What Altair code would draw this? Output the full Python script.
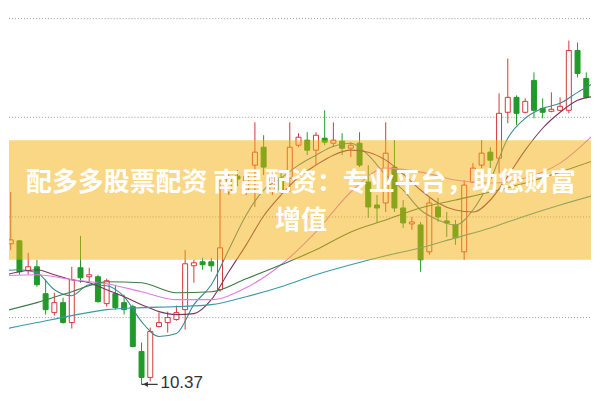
import altair as alt
import pandas as pd

# ---------------- data ----------------
idx = list(range(69))
open_ = [11.47, 11.78, 11.81, 11.51, 11.55, 11.28, 11.09, 11.19, 10.99, 11.54,
         11.45, 11.45, 11.18, 11.28, 11.19, 11.15, 10.70, 10.44, 10.95, 10.99,
         11.02, 11.12, 11.56, 11.60, 11.60, 11.32, 12.30, 12.46, 12.32, 12.57,
         12.75, 12.32, 12.44, 12.44, 12.77, 12.82, 12.72, 12.84, 12.79, 12.81,
         12.74, 12.79, 12.40, 12.17, 12.19, 12.55, 12.14, 11.98, 11.97, 11.70,
         12.15, 12.01, 11.97, 11.70, 12.40, 12.57, 12.70, 12.64, 13.10, 13.25,
         13.10, 13.42, 13.14, 13.11, 13.12, 13.12, 13.72, 13.44, 13.23]
close = [11.60, 11.82, 11.50, 11.55, 11.37, 11.12, 11.19, 10.99, 11.42, 11.44,
         11.47, 11.20, 11.41, 11.14, 11.12, 10.75, 10.44, 10.90, 10.99, 11.04,
         11.09, 11.58, 11.59, 11.57, 11.56, 11.74, 12.44, 12.43, 12.46, 12.70,
         12.55, 12.44, 12.32, 12.75, 12.85, 12.72, 12.87, 12.80, 12.82, 12.74,
         12.77, 12.57, 12.15, 12.14, 12.69, 12.14, 11.99, 12.00, 11.62, 12.19,
         12.05, 11.99, 11.84, 12.37, 12.54, 12.69, 12.62, 13.09, 13.25, 13.09,
         13.21, 13.12, 13.10, 13.13, 13.16, 13.72, 13.49, 13.25, 13.25]
high = [11.64, 12.30, 11.82, 11.69, 11.62, 11.42, 11.29, 11.24, 11.55, 11.86,
        11.54, 11.47, 11.43, 11.37, 11.27, 11.17, 10.79, 10.94, 11.09, 11.10,
        11.16, 11.72, 11.62, 11.64, 11.64, 12.42, 12.48, 12.52, 12.50, 13.00,
        12.87, 12.50, 12.49, 13.00, 12.89, 12.90, 12.90, 13.12, 13.00, 12.89,
        12.80, 12.90, 12.57, 12.27, 13.00, 12.82, 12.22, 12.05, 12.00, 12.24,
        12.24, 12.10, 12.02, 12.42, 12.59, 12.82, 12.75, 13.29, 13.64, 13.27,
        13.24, 13.50, 13.24, 13.30, 13.25, 13.82, 13.80, 13.50, 13.27]
low = [11.42, 11.72, 11.47, 11.47, 11.35, 11.07, 11.06, 10.98, 10.93, 11.39,
       11.40, 11.19, 11.15, 11.12, 11.07, 10.74, 10.37, 10.40, 10.94, 10.89,
       11.01, 10.92, 11.39, 11.52, 11.50, 11.30, 12.27, 12.36, 12.27, 12.15,
       12.47, 12.27, 12.28, 12.30, 12.75, 12.67, 12.57, 12.77, 12.75, 12.67,
       12.65, 12.55, 12.04, 11.99, 12.10, 12.10, 11.94, 11.92, 11.50, 11.67,
       12.00, 11.85, 11.77, 11.62, 12.39, 12.54, 12.54, 12.49, 12.99, 12.97,
       13.09, 13.04, 13.04, 13.10, 13.11, 13.09, 13.45, 13.24, 13.10]

ma_idx_2 = list(range(0, 69, 2))
ma5 = [11.51, 11.52, 11.49, 11.32, 11.26, 11.37, 11.36, 11.25, 11.00, 10.85,
       10.88, 11.17, 11.37, 11.72, 12.07, 12.32, 12.44, 12.57, 12.67, 12.76,
       12.79, 12.67, 12.47, 12.32, 12.12, 12.02, 11.97, 12.12, 12.42, 12.84,
       13.04, 13.14, 13.19, 13.30, 13.40]
ma10 = [11.46, 11.50, 11.52, 11.47, 11.42, 11.39, 11.32, 11.25, 11.17, 11.10,
        11.07, 11.08, 11.22, 11.50, 11.77, 12.06, 12.27, 12.45, 12.57, 12.67,
        12.72, 12.70, 12.62, 12.48, 12.32, 12.19, 12.12, 12.10, 12.22, 12.46,
        12.72, 12.94, 13.10, 13.22, 13.26]
ma_idx_4 = list(range(0, 69, 4))
ma20 = [11.46, 11.47, 11.42, 11.38, 11.30, 11.22, 11.22, 11.34, 11.57, 11.90,
        12.30, 12.54, 12.50, 12.42, 12.39, 12.44, 12.59, 12.89]
ma30 = [11.10, 11.19, 11.30, 11.40, 11.39, 11.29, 11.30, 11.43, 11.57, 11.72,
        11.90, 12.02, 12.14, 12.22, 12.30, 12.39, 12.50, 12.62]
ma60 = [10.92, 10.99, 11.06, 11.12, 11.14, 11.15, 11.17, 11.25, 11.35, 11.47,
        11.57, 11.66, 11.74, 11.84, 11.94, 12.06, 12.17, 12.27]

grid_prices = [14.04, 13.05, 12.05, 11.04]
banner_band = [12.82, 11.62]
low_label = "10.37"
low_index = 16
low_price = 10.37
title_line1 = "配多多股票配资 南昌配资：专业平台，助您财富"
title_line2 = "增值"

# ---------------- chart ----------------
W, H = 584, 385
RED = "#d4393b"
GREEN = "#229a2a"

xs = alt.Scale(domain=[0.8, 67.543], nice=False, zero=False, padding=0)
ys = alt.Scale(domain=[10.29, 14.14], nice=False, zero=False, padding=0)

candles = pd.DataFrame({"i": idx, "open": open_, "high": high,
                        "low": low, "close": close})
up = "datum.close >= datum.open"

grid = alt.Chart(pd.DataFrame({"p": grid_prices})).mark_rule(
    color="#9a9a9a", strokeDash=[1, 2], strokeWidth=1
).encode(x=alt.value(0), x2=alt.value(W),
         y=alt.Y("p:Q", scale=ys, axis=None))

wick = alt.Chart(candles).mark_rule(strokeWidth=1, clip=True).encode(
    x=alt.X("i:Q", scale=xs, axis=None),
    y=alt.Y("low:Q", scale=ys, axis=None),
    y2="high:Q",
    color=alt.condition(up, alt.value(RED), alt.value(GREEN)),
)
body = alt.Chart(candles).mark_bar(size=5, strokeWidth=1, clip=True).encode(
    x=alt.X("i:Q", scale=xs, axis=None),
    y=alt.Y("open:Q", scale=ys, axis=None),
    y2="close:Q",
    fill=alt.condition(up, alt.value("white"), alt.value(GREEN)),
    stroke=alt.condition(up, alt.value(RED), alt.value(GREEN)),
)

rows = []
for name, ix, vals in [("MA5", ma_idx_2, ma5), ("MA10", ma_idx_2, ma10),
                       ("MA20", ma_idx_4, ma20), ("MA30", ma_idx_4, ma30),
                       ("MA60", ma_idx_4, ma60)]:
    for a, b in zip(ix, vals):
        rows.append({"ma": name, "i": a, "v": b})
ma_df = pd.DataFrame(rows)
lines = alt.Chart(ma_df).mark_line(strokeWidth=1.1, interpolate="monotone",
                                   clip=True).encode(
    x=alt.X("i:Q", scale=xs, axis=None),
    y=alt.Y("v:Q", scale=ys, axis=None),
    detail="ma:N",
    color=alt.Color("ma:N", legend=None, scale=alt.Scale(
        domain=["MA5", "MA10", "MA20", "MA30", "MA60"],
        range=["#3f8a8f", "#7a3566", "#e07fe0", "#3e7b45", "#3a9aa8"])),
)

lowdf = pd.DataFrame({"i": [low_index], "p": [low_price], "t": [low_label]})
arrow_line = alt.Chart(lowdf).transform_calculate(
    i2="datum.i + 1.85").mark_rule(color="#333333", strokeWidth=1.2).encode(
    x=alt.X("i:Q", scale=xs, axis=None),
    x2="i2:Q",
    y=alt.Y("p:Q", scale=ys, axis=None),
)
arrow_head = alt.Chart(lowdf).mark_point(shape="triangle-left", filled=True,
                                         size=30, color="#333333", opacity=1,
                                         xOffset=4).encode(
    x=alt.X("i:Q", scale=xs, axis=None),
    y=alt.Y("p:Q", scale=ys, axis=None))
low_text = alt.Chart(lowdf).mark_text(align="left", baseline="middle",
                                      fontSize=17, color="#333333",
                                      font="Liberation Sans", dx=19, dy=-1).encode(
    x=alt.X("i:Q", scale=xs, axis=None),
    y=alt.Y("p:Q", scale=ys, axis=None),
    text="t:N")

banner = alt.Chart(pd.DataFrame({"top": [banner_band[0]],
                                 "bot": [banner_band[1]]})).mark_rect(
    color="#F4AF0C", opacity=0.5
).encode(x=alt.value(0), x2=alt.value(W),
         y=alt.Y("top:Q", scale=ys, axis=None), y2="bot:Q")

t1 = alt.Chart(pd.DataFrame({"t": [title_line1]})).mark_text(
    font="Noto Sans CJK SC", fontWeight="bold", fontSize=26, color="white",
    align="center", baseline="middle"
).encode(x=alt.value(293), y=alt.value(175), text="t:N")
t2 = alt.Chart(pd.DataFrame({"t": [title_line2]})).mark_text(
    font="Noto Sans CJK SC", fontWeight="bold", fontSize=26, color="white",
    align="center", baseline="middle"
).encode(x=alt.value(293), y=alt.value(213), text="t:N")

chart = alt.layer(grid, wick, body, lines, arrow_line, arrow_head, low_text,
                  banner, t1, t2).properties(
    width=W, height=H, padding=0, background="white"
).configure_view(strokeWidth=0)

chart.save("out.html", embed_options={"renderer": "svg", "actions": False})
